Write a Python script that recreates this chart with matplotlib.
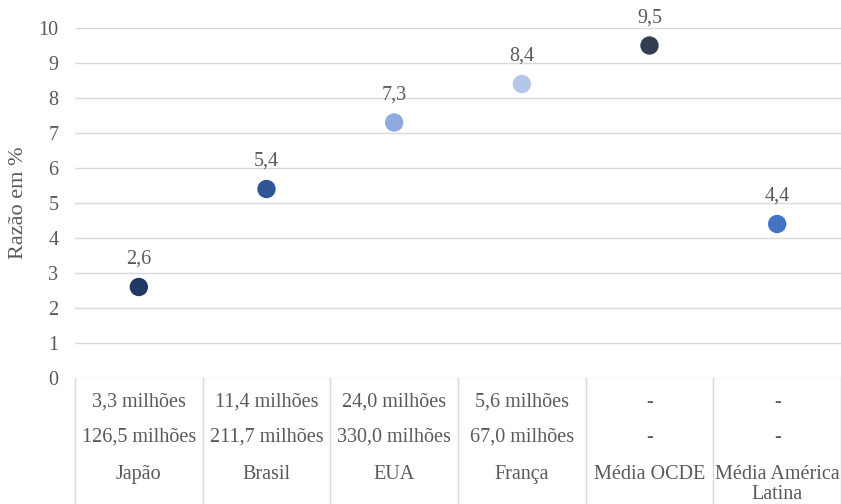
import numpy as np
import matplotlib

matplotlib.use('Agg')
import matplotlib.pyplot as plt
import matplotlib.transforms as mtransforms

# data
categories = ['Japão', 'Brasil', 'EUA', 'França', 'Média OCDE', 'Média América\nLatina']
ratio = [2.6, 5.4, 7.3, 8.4, 9.5, 4.4]
row_1 = ['3,3 milhões', '11,4 milhões', '24,0 milhões', '5,6 milhões', '-', '-']
row_2 = ['126,5 milhões', '211,7 milhões', '330,0 milhões', '67,0 milhões', '-', '-']
colors = ['#203864', '#2F5597', '#8FAADC', '#B4C7E7', '#333F50', '#4472C4']

plt.rcParams['font.family'] = 'serif'
plt.rcParams['font.serif'] = ['Liberation Serif', 'DejaVu Serif']
text_col = '#595959'
grid_col = '#D9D9D9'
fs = 14.5

fig = plt.figure(figsize=(8.41, 5.04), dpi=100)
ax = fig.add_axes([75/841, 126/504, 766/841, 350/504])

x = np.arange(len(categories))
ax.scatter(x, ratio, s=175, c=colors, zorder=3, linewidths=0)
for xi, v in zip(x, ratio):
    ax.annotate(('%.1f' % v).replace('.', ','), (xi, v), xytext=(0, 20),
                textcoords='offset points', ha='center', va='center',
                fontsize=fs, color=text_col)

ax.set_xlim(-0.5, len(categories) - 0.5)
ax.set_ylim(0, 10)
ax.set_yticks(range(0, 11))
ax.yaxis.grid(True, color=grid_col, linewidth=1)
ax.set_axisbelow(True)
ax.set_xticks([])
ax.tick_params(axis='y', length=0, pad=12, labelsize=fs, labelcolor=text_col)
for s in ax.spines.values():
    s.set_visible(False)
ax.set_ylabel('Razão em %', fontsize=16, color=text_col, labelpad=7)

# table below the plot
trans = mtransforms.blended_transform_factory(ax.transData, ax.transAxes)
for b in np.arange(-0.5, len(categories), 1.0):
    ax.plot([b, b], [0, -0.4], color=grid_col, linewidth=1, transform=trans,
            clip_on=False)
for xi in x:
    ax.text(xi, -0.0686, row_1[xi], transform=trans, ha='center', va='center',
            fontsize=fs, color=text_col)
    ax.text(xi, -0.1686, row_2[xi], transform=trans, ha='center', va='center',
            fontsize=fs, color=text_col)
    ax.text(xi, -0.249, categories[xi], transform=trans, ha='center',
            va='top', fontsize=fs, color=text_col, linespacing=1.08)

fig.savefig('out.png', dpi=100)
